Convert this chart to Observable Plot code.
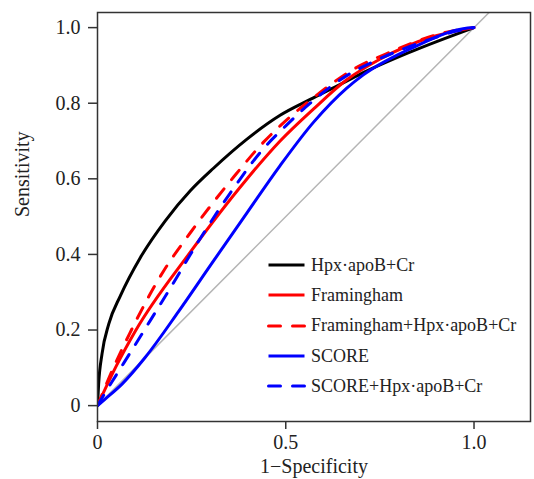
<!DOCTYPE html>
<html>
<head>
<meta charset="utf-8">
<script src="https://cdn.jsdelivr.net/npm/d3@7"></script>
<script src="https://cdn.jsdelivr.net/npm/@observablehq/plot@0.6"></script>
<style>
  body { margin: 0; background: #fff; }
  #wrap { position: relative; width: 534px; height: 479px; font-family: "Liberation Serif", "Times New Roman", serif; color: #222; }
  #legend { position: absolute; left: 265px; top: 250px; }
  .row { display: flex; align-items: center; height: 30.3px; font-size: 18px; white-space: nowrap; }
  .row svg { width: 42px; height: 12px; margin-right: 4px; flex: none; }
</style>
</head>
<body>
<div id="wrap"><div id="legend"></div></div>
<script>
// Series names, colours and styles (legend order)
const seriesNames = ["Hpx·apoB+Cr", "Framingham", "Framingham+Hpx·apoB+Cr", "SCORE", "SCORE+Hpx·apoB+Cr"];
const seriesColors = ["#000000", "#ff0000", "#ff0000", "#0000ff", "#0000ff"];
const seriesDashed = [false, false, true, false, true];

// ROC curves: 1-Specificity (fpr) and Sensitivity (tpr)
const hpxFpr = [0, 0.003, 0.012, 0.030, 0.061, 0.114, 0.180, 0.247, 0.308, 0.397, 0.485, 0.565, 0.645, 0.698, 0.830, 1];
const hpxTpr = [0, 0.057, 0.137, 0.216, 0.291, 0.392, 0.489, 0.569, 0.628, 0.705, 0.768, 0.810, 0.850, 0.877, 0.935, 1];

const framFpr = [0, 0.048, 0.101, 0.242, 0.393, 0.485, 0.574, 0.662, 0.751, 0.883, 1];
const framTpr = [0, 0.101, 0.198, 0.400, 0.595, 0.700, 0.785, 0.862, 0.917, 0.974, 1];

const framPlusFpr = [0, 0.039, 0.085, 0.176, 0.247, 0.361, 0.441, 0.485, 0.574, 0.680, 0.777, 0.927, 1];
const framPlusTpr = [0, 0.093, 0.190, 0.357, 0.458, 0.604, 0.697, 0.740, 0.815, 0.890, 0.935, 0.988, 1];

const scoreFpr = [0, 0.021, 0.065, 0.127, 0.216, 0.304, 0.397, 0.485, 0.574, 0.662, 0.706, 0.839, 0.971, 1];
const scoreTpr = [0, 0.018, 0.057, 0.128, 0.250, 0.377, 0.510, 0.635, 0.750, 0.840, 0.875, 0.948, 0.997, 1];

const scorePlusFpr = [0, 0.021, 0.065, 0.132, 0.194, 0.264, 0.353, 0.441, 0.500, 0.565, 0.662, 0.733, 0.795, 0.866, 0.950, 1];
const scorePlusTpr = [0, 0.035, 0.105, 0.212, 0.312, 0.428, 0.563, 0.680, 0.740, 0.800, 0.873, 0.910, 0.937, 0.963, 0.990, 1];

// Axis ticks
const xTicks = [0, 0.5, 1];
const xTickLabels = ["0", "0.5", "1.0"];
const yTicks = [0, 0.2, 0.4, 0.6, 0.8, 1];
const yTickLabels = ["0", "0.2", "0.4", "0.6", "0.8", "1.0"];
const xLabel = "1−Specificity";
const yLabel = "Sensitivity";
const refLine = [0, 1.2]; // chance diagonal y = x

const fprs = [hpxFpr, framFpr, framPlusFpr, scoreFpr, scorePlusFpr];
const tprs = [hpxTpr, framTpr, framPlusTpr, scoreTpr, scorePlusTpr];
const rows = seriesNames.flatMap((name, i) =>
  fprs[i].map((f, j) => ({series: name, fpr: f, tpr: tprs[i][j]})));

const lineMarks = seriesNames.map((name, i) =>
  Plot.line(rows.filter(d => d.series === name), {
    x: "fpr", y: "tpr", stroke: seriesColors[i], strokeWidth: 3,
    strokeDasharray: seriesDashed[i] ? "12,12" : null,
    strokeLinecap: seriesDashed[i] ? "round" : "butt",
    curve: "monotone-x", clip: true
  }));

const chart = Plot.plot({
  width: 534,
  height: 479,
  marginLeft: 97,
  marginRight: 4,
  marginTop: 12,
  marginBottom: 58,
  style: {fontFamily: '"Liberation Serif", "Times New Roman", serif', fontSize: "20px", color: "#222", background: "#fff"},
  x: {domain: [0, 1.15]},
  y: {domain: [-0.042, 1.04]},
  marks: [
    Plot.line(refLine, {x: d => d, y: d => d, stroke: "#b5b5b5", strokeWidth: 1.5, clip: true}),
    ...lineMarks,
    Plot.frame({stroke: "#333", strokeWidth: 1.5}),
    Plot.axisX({ticks: xTicks, tickFormat: d => xTickLabels[xTicks.indexOf(d)], tickSize: 8, tickPadding: 5, fontSize: 20, label: null, stroke: "#333", strokeWidth: 1.5}),
    Plot.axisY({ticks: yTicks, tickFormat: d => yTickLabels[yTicks.findIndex(t => Math.abs(t - d) < 1e-9)], tickSize: 9, tickPadding: 8, fontSize: 20, label: null, stroke: "#333", strokeWidth: 1.5}),
    Plot.text([xLabel], {text: d => d, frameAnchor: "bottom", dy: 45, fontSize: 20, lineAnchor: "middle", fill: "#222"}),
    Plot.text([yLabel], {text: d => d, frameAnchor: "left", dx: -75, rotate: -90, fontSize: 20, lineAnchor: "middle", fill: "#222"})
  ]
});
const wrap = document.getElementById("wrap");
wrap.insertBefore(chart, wrap.firstChild);

// Legend
const legend = d3.select("#legend");
seriesNames.forEach((name, i) => {
  const row = legend.append("div").attr("class", "row");
  const svg = row.append("svg");
  svg.append("line").attr("x1", 3.5).attr("x2", 39.5).attr("y1", 6).attr("y2", 6)
    .attr("stroke", seriesColors[i]).attr("stroke-width", 3)
    .attr("stroke-dasharray", seriesDashed[i] ? "12,12" : null)
    .attr("stroke-linecap", seriesDashed[i] ? "round" : "butt");
  row.append("span").text(name);
});
</script>
</body>
</html>
